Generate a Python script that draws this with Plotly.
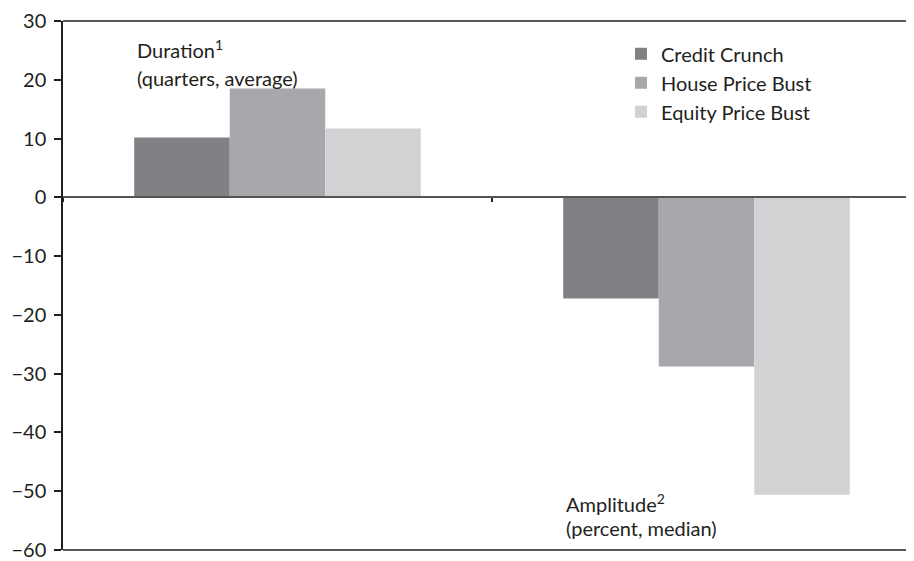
import plotly.graph_objects as go

categories = ["Duration", "Amplitude"]
series_names = ["Credit Crunch", "House Price Bust", "Equity Price Bust"]
credit_crunch = [10.2, -17.2]
house_price_bust = [18.5, -28.8]
equity_price_bust = [11.7, -50.6]
tick_vals = [30, 20, 10, 0, -10, -20, -30, -40, -50, -60]
tick_text = ["30", "20", "10", "0", "\u221210", "\u221220", "\u221230", "\u221240", "\u221250", "\u221260"]

colors = ["#808085", "#a7a8ab", "#d1d2d4"]
FONT = "Lato"
TXT = "#231f20"
FS = 20

fig = go.Figure()
for name, vals, c in zip(series_names, [credit_crunch, house_price_bust, equity_price_bust], colors):
    fig.add_trace(go.Bar(x=categories, y=vals, name=name, marker=dict(color=c, line=dict(width=0))))

y0_frac = (0 - (-60)) / 90.0

fig.update_layout(
    width=906, height=553,
    margin=dict(l=55, r=0, t=12, b=9),
    paper_bgcolor="white", plot_bgcolor="white",
    barmode="group", bargap=0.332, bargroupgap=0,
    font=dict(family=FONT, size=FS, color=TXT),
    showlegend=True,
    legend=dict(x=0.6557, y=0.975, xanchor="left", yanchor="top",
                font=dict(family=FONT, size=FS, color=TXT),
                bgcolor="rgba(0,0,0,0)", tracegroupgap=0),
    xaxis=dict(range=[-0.5, -0.5 + 851 / 429], showticklabels=False, showgrid=False,
               showline=True, linecolor="#555555", linewidth=2,
               anchor="free", position=y0_frac,
               ticks="outside", tickson="boundaries", ticklen=4, tickcolor="#231f20", tickwidth=1.5,
               fixedrange=True),
    yaxis=dict(range=[-60, 30], tickvals=tick_vals, ticktext=tick_text, showgrid=False,
               zeroline=False, showline=True, linecolor="#231f20", linewidth=1.5,
               ticks="outside", ticklen=7, tickcolor="#231f20", tickwidth=1.5,
               ticklabeloverflow="allow", ticklabelstandoff=4,
               tickfont=dict(family=FONT, size=FS, color=TXT)),
)

# frame lines at top and bottom of plot area
for yy in [0, 1]:
    fig.add_shape(type="line", xref="paper", yref="paper", x0=0, x1=1, y0=yy, y1=yy,
                  line=dict(color="#231f20", width=1.5))

def ann(text, x, y):
    fig.add_annotation(text=text, x=x, y=y, xref="x", yref="y", xanchor="left", yanchor="middle",
                       showarrow=False, font=dict(family=FONT, size=FS, color=TXT))

ann("Duration<sup>1</sup>", -0.332, 25.3)
ann("(quarters, average)", -0.332, 20.3)
ann("Amplitude<sup>2</sup>", 0.668, -52.0)
ann("(percent, median)", 0.668, -56.3)

fig.write_html("out.html")
